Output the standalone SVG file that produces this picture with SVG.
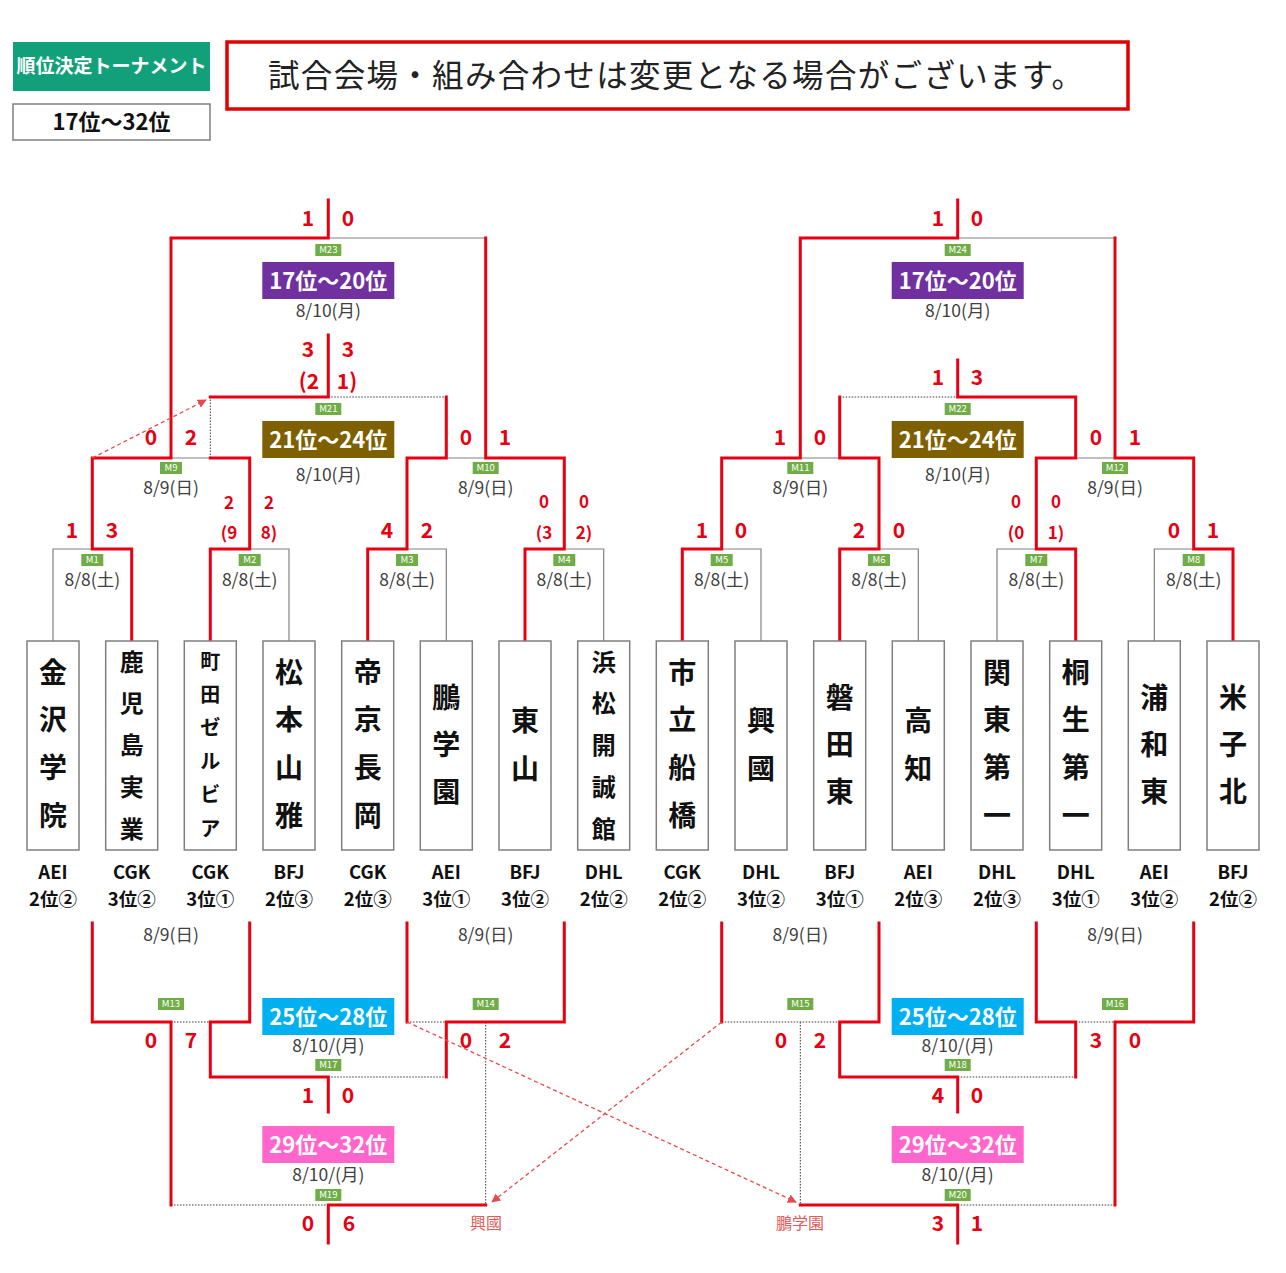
<svg xmlns="http://www.w3.org/2000/svg" width="1286" height="1273" viewBox="0 0 1286 1273">
<defs>
<style>
text{font-family:'Noto Sans CJK JP','Noto Sans',sans-serif}
.r{fill:none;stroke:#E60012;stroke-width:3;stroke-linecap:square}
.g{fill:none;stroke:#808080;stroke-width:1.2}
.d{fill:none;stroke:#3A3A3A;stroke-width:1;stroke-dasharray:1.5 1.5}
.a{fill:none;stroke:#E8494F;stroke-width:1.3;stroke-dasharray:4 3}
.box{fill:#fff;stroke:#7F7F7F;stroke-width:1.5}
.nm{font-weight:700;fill:#111;text-anchor:middle}
.n4{font-size:28px}.n5{font-size:24px}.n6{font-size:20px}
.lg{font-weight:700;font-size:18.5px;fill:#111;text-anchor:middle}
.sc{font-weight:700;font-size:21px;fill:#E60012;text-anchor:middle}
.ss{font-size:17px}
.dt{font-size:17.5px;fill:#404040;text-anchor:middle}
.ml rect{fill:#70AD47}
.ml text{font-size:9.5px;fill:#fff;text-anchor:middle}
.rk text{font-weight:700;font-size:22px;fill:#fff;text-anchor:middle}
.tr{font-size:16px;fill:#E05A5A;text-anchor:middle}
</style>
<marker id="ah" viewBox="0 0 10 10" refX="9" refY="5" markerWidth="9" markerHeight="9" markerUnits="userSpaceOnUse" orient="auto"><path d="M0 0L10 5L0 10z" fill="#E8494F"/></marker>
</defs>
<rect width="1286" height="1273" fill="#fff"/>

<g id="header">
<rect x="13" y="42" width="197" height="49" fill="#12A07A"/>
<text x="111.5" y="73" font-size="19" font-weight="700" fill="#fff" text-anchor="middle">順位決定トーナメント</text>
<rect x="13" y="104" width="197" height="36" fill="#fff" stroke="#7F7F7F" stroke-width="1.5"/>
<text x="111.5" y="130" font-size="22" font-weight="700" fill="#111" text-anchor="middle">17位～32位</text>
</g>
<g id="notice">
<rect x="227" y="42" width="901" height="67" fill="#fff" stroke="#E00000" stroke-width="3.5"/>
<text x="268" y="87" font-size="31.5" fill="#222" textLength="815" lengthAdjust="spacing">試合会場・組み合わせは変更となる場合がございます。</text>
</g>

<g id="connectors">
<path class="g" d="M53 641V549H92.3M289 641V549H249.7M446.3 641V549H407M603.7 641V549H564.3M761 641V549H721.7M918.3 641V549H879M997 641V549H1036.3M1154.3 641V549H1193.7M171 458H210.3M446.3 458H485.7M800.3 458H839.7M1075.7 458H1115M328.3 238H485.7M957.7 238H1115"/>
<path class="d" d="M210.3 458V397M328.3 397H446.3M839.7 397H957.7"/>
<path class="d" d="M171 1022H210.3M407 1022H446.3M485.7 1022V1205M328.3 1077H446.3M171 1205H328.3M721.7 1022H839.7M800.3 1022V1205M1075.7 1022H1115M957.7 1077H1075.7M957.7 1205H1115"/>
<path class="r" d="M131.7 641V549H92.3V458H171V238H328.3V200"/>
<path class="r" d="M210.3 641V549H249.7V458H210.3"/>
<path class="r" d="M367.7 641V549H407V458H446.3V397"/>
<path class="r" d="M525 641V549H564.3V458H485.7V238"/>
<path class="r" d="M210.3 397H328.3V335"/>
<path class="r" d="M682.3 641V549H721.7V458H800.3V238H957.7V200"/>
<path class="r" d="M839.7 641V549H879V458H839.7V397"/>
<path class="r" d="M1075.7 641V549H1036.3V458H1075.7V397H957.7V360"/>
<path class="r" d="M1233 641V549H1193.7V458H1115V238"/>
<path class="r" d="M92.3 923V1022H171V1205"/>
<path class="r" d="M249.7 923V1022H210.3V1077H328.3V1112"/>
<path class="r" d="M407 923V1022"/>
<path class="r" d="M564.3 923V1022H446.3V1077"/>
<path class="r" d="M485.7 1205H328.3V1243"/>
<path class="r" d="M721.7 923V1022"/>
<path class="r" d="M879 923V1022H839.7V1077H957.7V1112"/>
<path class="r" d="M1036.3 923V1022H1075.7V1077"/>
<path class="r" d="M1193.7 923V1022H1115V1205"/>
<path class="r" d="M800.3 1205H957.7V1243"/>
<path class="a" marker-end="url(#ah)" d="M92.3 458L206 400"/>
<path class="a" marker-end="url(#ah)" d="M721.7 1022L492 1202"/>
<path class="a" marker-end="url(#ah)" d="M407 1022L796 1202"/>
<text class="tr" x="486" y="1229">興國</text>
<text class="tr" x="800" y="1229">鵬学園</text>
</g>

<g id="team-1"><rect class="box" x="27" y="641" width="52" height="209"/><text class="nm n4"><tspan x="53" y="682.6">金</tspan><tspan x="53" y="730.3">沢</tspan><tspan x="53" y="777.9">学</tspan><tspan x="53" y="825.6">院</tspan></text><text class="lg"><tspan x="53" y="879">AEI</tspan><tspan x="53" y="906">2位②</tspan></text></g>
<g id="team-2"><rect class="box" x="105.7" y="641" width="52" height="209"/><text class="nm n5"><tspan x="131.7" y="670.6">鹿</tspan><tspan x="131.7" y="712.3">児</tspan><tspan x="131.7" y="754.1">島</tspan><tspan x="131.7" y="795.9">実</tspan><tspan x="131.7" y="837.6">業</tspan></text><text class="lg"><tspan x="131.7" y="879">CGK</tspan><tspan x="131.7" y="906">3位②</tspan></text></g>
<g id="team-3"><rect class="box" x="184.3" y="641" width="52" height="209"/><text class="nm n6"><tspan x="210.3" y="668.6">町</tspan><tspan x="210.3" y="702">田</tspan><tspan x="210.3" y="735.4">ゼ</tspan><tspan x="210.3" y="768.8">ル</tspan><tspan x="210.3" y="802.2">ビ</tspan><tspan x="210.3" y="835.6">ア</tspan></text><text class="lg"><tspan x="210.3" y="879">CGK</tspan><tspan x="210.3" y="906">3位①</tspan></text></g>
<g id="team-4"><rect class="box" x="263" y="641" width="52" height="209"/><text class="nm n4"><tspan x="289" y="682.6">松</tspan><tspan x="289" y="730.3">本</tspan><tspan x="289" y="777.9">山</tspan><tspan x="289" y="825.6">雅</tspan></text><text class="lg"><tspan x="289" y="879">BFJ</tspan><tspan x="289" y="906">2位③</tspan></text></g>
<g id="team-5"><rect class="box" x="341.7" y="641" width="52" height="209"/><text class="nm n4"><tspan x="367.7" y="682.6">帝</tspan><tspan x="367.7" y="730.3">京</tspan><tspan x="367.7" y="777.9">長</tspan><tspan x="367.7" y="825.6">岡</tspan></text><text class="lg"><tspan x="367.7" y="879">CGK</tspan><tspan x="367.7" y="906">2位③</tspan></text></g>
<g id="team-6"><rect class="box" x="420.3" y="641" width="52" height="209"/><text class="nm n4"><tspan x="446.3" y="707.6">鵬</tspan><tspan x="446.3" y="754.6">学</tspan><tspan x="446.3" y="801.6">園</tspan></text><text class="lg"><tspan x="446.3" y="879">AEI</tspan><tspan x="446.3" y="906">3位①</tspan></text></g>
<g id="team-7"><rect class="box" x="499" y="641" width="52" height="209"/><text class="nm n4"><tspan x="525" y="730.6">東</tspan><tspan x="525" y="778.6">山</tspan></text><text class="lg"><tspan x="525" y="879">BFJ</tspan><tspan x="525" y="906">3位②</tspan></text></g>
<g id="team-8"><rect class="box" x="577.7" y="641" width="52" height="209"/><text class="nm n5"><tspan x="603.7" y="670.6">浜</tspan><tspan x="603.7" y="712.3">松</tspan><tspan x="603.7" y="754.1">開</tspan><tspan x="603.7" y="795.9">誠</tspan><tspan x="603.7" y="837.6">館</tspan></text><text class="lg"><tspan x="603.7" y="879">DHL</tspan><tspan x="603.7" y="906">2位②</tspan></text></g>
<g id="team-9"><rect class="box" x="656.3" y="641" width="52" height="209"/><text class="nm n4"><tspan x="682.3" y="682.6">市</tspan><tspan x="682.3" y="730.3">立</tspan><tspan x="682.3" y="777.9">船</tspan><tspan x="682.3" y="825.6">橋</tspan></text><text class="lg"><tspan x="682.3" y="879">CGK</tspan><tspan x="682.3" y="906">2位②</tspan></text></g>
<g id="team-10"><rect class="box" x="735" y="641" width="52" height="209"/><text class="nm n4"><tspan x="761" y="730.6">興</tspan><tspan x="761" y="778.6">國</tspan></text><text class="lg"><tspan x="761" y="879">DHL</tspan><tspan x="761" y="906">3位②</tspan></text></g>
<g id="team-11"><rect class="box" x="813.7" y="641" width="52" height="209"/><text class="nm n4"><tspan x="839.7" y="707.6">磐</tspan><tspan x="839.7" y="754.6">田</tspan><tspan x="839.7" y="801.6">東</tspan></text><text class="lg"><tspan x="839.7" y="879">BFJ</tspan><tspan x="839.7" y="906">3位①</tspan></text></g>
<g id="team-12"><rect class="box" x="892.3" y="641" width="52" height="209"/><text class="nm n4"><tspan x="918.3" y="730.6">高</tspan><tspan x="918.3" y="778.6">知</tspan></text><text class="lg"><tspan x="918.3" y="879">AEI</tspan><tspan x="918.3" y="906">2位③</tspan></text></g>
<g id="team-13"><rect class="box" x="971" y="641" width="52" height="209"/><text class="nm n4"><tspan x="997" y="682.6">関</tspan><tspan x="997" y="730.3">東</tspan><tspan x="997" y="777.9">第</tspan><tspan x="997" y="825.6">一</tspan></text><text class="lg"><tspan x="997" y="879">DHL</tspan><tspan x="997" y="906">2位③</tspan></text></g>
<g id="team-14"><rect class="box" x="1049.7" y="641" width="52" height="209"/><text class="nm n4"><tspan x="1075.7" y="682.6">桐</tspan><tspan x="1075.7" y="730.3">生</tspan><tspan x="1075.7" y="777.9">第</tspan><tspan x="1075.7" y="825.6">一</tspan></text><text class="lg"><tspan x="1075.7" y="879">DHL</tspan><tspan x="1075.7" y="906">3位①</tspan></text></g>
<g id="team-15"><rect class="box" x="1128.3" y="641" width="52" height="209"/><text class="nm n4"><tspan x="1154.3" y="707.6">浦</tspan><tspan x="1154.3" y="754.6">和</tspan><tspan x="1154.3" y="801.6">東</tspan></text><text class="lg"><tspan x="1154.3" y="879">AEI</tspan><tspan x="1154.3" y="906">3位②</tspan></text></g>
<g id="team-16"><rect class="box" x="1207" y="641" width="52" height="209"/><text class="nm n4"><tspan x="1233" y="707.6">米</tspan><tspan x="1233" y="754.6">子</tspan><tspan x="1233" y="801.6">北</tspan></text><text class="lg"><tspan x="1233" y="879">BFJ</tspan><tspan x="1233" y="906">2位②</tspan></text></g>

<g id="M1"><g class="ml"><rect x="81.3" y="554" width="22" height="12"/><text x="92.3" y="563.4">M1</text></g><text class="dt" x="92.3" y="586">8/8(土)</text><text class="sc" x="72" y="537.5">1</text><text class="sc" x="112" y="537.5">3</text></g>
<g id="M2"><g class="ml"><rect x="238.7" y="554" width="22" height="12"/><text x="249.7" y="563.4">M2</text></g><text class="dt" x="249.7" y="586">8/8(土)</text><text class="sc ss" x="229" y="509">2</text><text class="sc ss" x="269" y="509">2</text><text class="sc ss" x="229" y="539">(9</text><text class="sc ss" x="269" y="539">8)</text></g>
<g id="M3"><g class="ml"><rect x="396" y="554" width="22" height="12"/><text x="407" y="563.4">M3</text></g><text class="dt" x="407" y="586">8/8(土)</text><text class="sc" x="387" y="537.5">4</text><text class="sc" x="427" y="537.5">2</text></g>
<g id="M4"><g class="ml"><rect x="553.3" y="554" width="22" height="12"/><text x="564.3" y="563.4">M4</text></g><text class="dt" x="564.3" y="586">8/8(土)</text><text class="sc ss" x="544" y="508">0</text><text class="sc ss" x="584" y="508">0</text><text class="sc ss" x="544" y="539">(3</text><text class="sc ss" x="584" y="539">2)</text></g>
<g id="M5"><g class="ml"><rect x="710.7" y="554" width="22" height="12"/><text x="721.7" y="563.4">M5</text></g><text class="dt" x="721.7" y="586">8/8(土)</text><text class="sc" x="702" y="537.5">1</text><text class="sc" x="741" y="537.5">0</text></g>
<g id="M6"><g class="ml"><rect x="868" y="554" width="22" height="12"/><text x="879" y="563.4">M6</text></g><text class="dt" x="879" y="586">8/8(土)</text><text class="sc" x="859" y="537.5">2</text><text class="sc" x="899" y="537.5">0</text></g>
<g id="M7"><g class="ml"><rect x="1025.3" y="554" width="22" height="12"/><text x="1036.3" y="563.4">M7</text></g><text class="dt" x="1036.3" y="586">8/8(土)</text><text class="sc ss" x="1016" y="508">0</text><text class="sc ss" x="1056" y="508">0</text><text class="sc ss" x="1016" y="539">(0</text><text class="sc ss" x="1056" y="539">1)</text></g>
<g id="M8"><g class="ml"><rect x="1182.7" y="554" width="22" height="12"/><text x="1193.7" y="563.4">M8</text></g><text class="dt" x="1193.7" y="586">8/8(土)</text><text class="sc" x="1174" y="537.5">0</text><text class="sc" x="1213" y="537.5">1</text></g>

<g id="M9"><g class="ml"><rect x="160" y="462" width="22" height="12"/><text x="171" y="471.4">M9</text></g><text class="dt" x="171" y="494">8/9(日)</text><text class="sc" x="151" y="444.5">0</text><text class="sc" x="191" y="444.5">2</text></g>
<g id="M10"><g class="ml"><rect x="472.7" y="462" width="26" height="12"/><text x="485.7" y="471.4">M10</text></g><text class="dt" x="485.7" y="494">8/9(日)</text><text class="sc" x="466" y="444.5">0</text><text class="sc" x="505" y="444.5">1</text></g>
<g id="M11"><g class="ml"><rect x="787.3" y="462" width="26" height="12"/><text x="800.3" y="471.4">M11</text></g><text class="dt" x="800.3" y="494">8/9(日)</text><text class="sc" x="780" y="444.5">1</text><text class="sc" x="820" y="444.5">0</text></g>
<g id="M12"><g class="ml"><rect x="1102" y="462" width="26" height="12"/><text x="1115" y="471.4">M12</text></g><text class="dt" x="1115" y="494">8/9(日)</text><text class="sc" x="1096" y="444.5">0</text><text class="sc" x="1135" y="444.5">1</text></g>

<g id="M23"><g class="ml"><rect x="315.3" y="244" width="26" height="12"/><text x="328.3" y="253.4">M23</text></g><g class="rk"><rect x="262.3" y="262" width="132" height="37" fill="#7030A0"/><text x="328.3" y="288.5">17位～20位</text></g><text class="dt" x="328.3" y="317">8/10(月)</text><text class="sc" x="308" y="225.5">1</text><text class="sc" x="348" y="225.5">0</text></g>
<g id="M24"><g class="ml"><rect x="944.7" y="244" width="26" height="12"/><text x="957.7" y="253.4">M24</text></g><g class="rk"><rect x="891.7" y="262" width="132" height="37" fill="#7030A0"/><text x="957.7" y="288.5">17位～20位</text></g><text class="dt" x="957.7" y="317">8/10(月)</text><text class="sc" x="938" y="225.5">1</text><text class="sc" x="977" y="225.5">0</text></g>
<g id="M21"><g class="ml"><rect x="315.3" y="403" width="26" height="12"/><text x="328.3" y="412.4">M21</text></g><g class="rk"><rect x="262.3" y="421" width="132" height="37" fill="#7F6000"/><text x="328.3" y="447.5">21位～24位</text></g><text class="dt" x="328.3" y="481">8/10(月)</text><text class="sc" x="308" y="356.5">3</text><text class="sc" x="348" y="356.5">3</text><text class="sc" x="309" y="388.5">(2</text><text class="sc" x="347" y="388.5">1)</text></g>
<g id="M22"><g class="ml"><rect x="944.7" y="403" width="26" height="12"/><text x="957.7" y="412.4">M22</text></g><g class="rk"><rect x="891.7" y="421" width="132" height="37" fill="#7F6000"/><text x="957.7" y="447.5">21位～24位</text></g><text class="dt" x="957.7" y="481">8/10(月)</text><text class="sc" x="938" y="384.5">1</text><text class="sc" x="977" y="384.5">3</text></g>

<g id="M13"><g class="ml"><rect x="158" y="998" width="26" height="12"/><text x="171" y="1007.4">M13</text></g><text class="dt" x="171" y="941">8/9(日)</text><text class="sc" x="151" y="1047.5">0</text><text class="sc" x="191" y="1047.5">7</text></g>
<g id="M14"><g class="ml"><rect x="472.7" y="998" width="26" height="12"/><text x="485.7" y="1007.4">M14</text></g><text class="dt" x="485.7" y="941">8/9(日)</text><text class="sc" x="466" y="1047.5">0</text><text class="sc" x="505" y="1047.5">2</text></g>
<g id="M15"><g class="ml"><rect x="787.3" y="998" width="26" height="12"/><text x="800.3" y="1007.4">M15</text></g><text class="dt" x="800.3" y="941">8/9(日)</text><text class="sc" x="781" y="1047.5">0</text><text class="sc" x="820" y="1047.5">2</text></g>
<g id="M16"><g class="ml"><rect x="1102" y="998" width="26" height="12"/><text x="1115" y="1007.4">M16</text></g><text class="dt" x="1115" y="941">8/9(日)</text><text class="sc" x="1096" y="1047.5">3</text><text class="sc" x="1135" y="1047.5">0</text></g>
<g id="M17"><g class="rk"><rect x="262.3" y="998" width="132" height="37" fill="#00B0F0"/><text x="328.3" y="1024.5">25位～28位</text></g><text class="dt" x="328.3" y="1052">8/10/(月)</text><g class="ml"><rect x="315.3" y="1059" width="26" height="12"/><text x="328.3" y="1068.4">M17</text></g><text class="sc" x="308" y="1102.5">1</text><text class="sc" x="348" y="1102.5">0</text></g>
<g id="M18"><g class="rk"><rect x="891.7" y="998" width="132" height="37" fill="#00B0F0"/><text x="957.7" y="1024.5">25位～28位</text></g><text class="dt" x="957.7" y="1052">8/10/(月)</text><g class="ml"><rect x="944.7" y="1059" width="26" height="12"/><text x="957.7" y="1068.4">M18</text></g><text class="sc" x="938" y="1102.5">4</text><text class="sc" x="977" y="1102.5">0</text></g>
<g id="M19"><g class="rk"><rect x="262.3" y="1126" width="132" height="37" fill="#FF66CC"/><text x="328.3" y="1152.5">29位～32位</text></g><text class="dt" x="328.3" y="1181">8/10/(月)</text><g class="ml"><rect x="315.3" y="1189" width="26" height="12"/><text x="328.3" y="1198.4">M19</text></g><text class="sc" x="308" y="1230.5">0</text><text class="sc" x="349" y="1230.5">6</text></g>
<g id="M20"><g class="rk"><rect x="891.7" y="1126" width="132" height="37" fill="#FF66CC"/><text x="957.7" y="1152.5">29位～32位</text></g><text class="dt" x="957.7" y="1181">8/10/(月)</text><g class="ml"><rect x="944.7" y="1189" width="26" height="12"/><text x="957.7" y="1198.4">M20</text></g><text class="sc" x="938" y="1230.5">3</text><text class="sc" x="977" y="1230.5">1</text></g>
</svg>
